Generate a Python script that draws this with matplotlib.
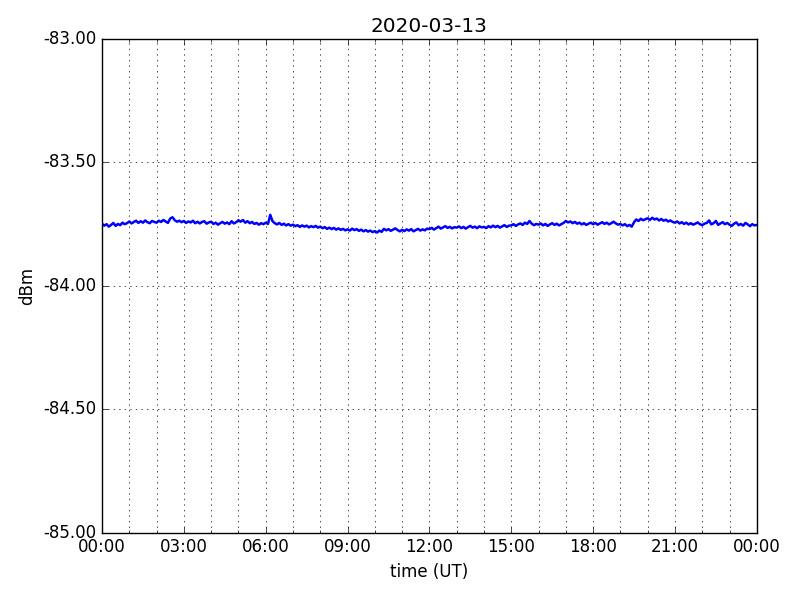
import datetime as dt
import matplotlib
matplotlib.use("Agg")
import matplotlib.pyplot as plt
import matplotlib.dates as mdates
from matplotlib.ticker import FormatStrFormatter, MultipleLocator

plt.style.use("classic")

day = dt.datetime(2020, 3, 13)
step_min = 5

# received level, one value every 5 minutes (dBm), one row per hour
level = [
    -83.748, -83.756, -83.750, -83.760, -83.753, -83.745, -83.757, -83.749, -83.754, -83.744, -83.750, -83.746,
    -83.739, -83.747, -83.741, -83.736, -83.745, -83.738, -83.744, -83.735, -83.742, -83.746, -83.737, -83.741,
    -83.744, -83.736, -83.741, -83.733, -83.739, -83.745, -83.727, -83.722, -83.734, -83.740, -83.736, -83.742,
    -83.737, -83.745, -83.739, -83.743, -83.736, -83.746, -83.740, -83.747, -83.741, -83.738, -83.748, -83.743,
    -83.740, -83.749, -83.744, -83.752, -83.746, -83.741, -83.748, -83.743, -83.750, -83.738, -83.747, -83.742,
    -83.734, -83.740, -83.733, -83.744, -83.738, -83.746, -83.741, -83.749, -83.745, -83.752, -83.746, -83.750,
    -83.744, -83.749, -83.712, -83.738, -83.746, -83.751, -83.745, -83.753, -83.748, -83.755, -83.750, -83.756,
    -83.752, -83.758, -83.754, -83.761, -83.755, -83.760, -83.756, -83.763, -83.758, -83.762, -83.757, -83.764,
    -83.760, -83.766, -83.762, -83.769, -83.764, -83.770, -83.765, -83.772, -83.767, -83.773, -83.769, -83.775,
    -83.771, -83.776, -83.768, -83.774, -83.770, -83.777, -83.772, -83.779, -83.774, -83.780, -83.776, -83.782,
    -83.778, -83.784, -83.776, -83.781, -83.769, -83.775, -83.770, -83.777, -83.772, -83.767, -83.774, -83.779,
    -83.773, -83.778, -83.771, -83.776, -83.770, -83.779, -83.774, -83.769, -83.776, -83.771, -83.775, -83.768,
    -83.770, -83.765, -83.772, -83.766, -83.760, -83.768, -83.763, -83.758, -83.765, -83.761, -83.767, -83.762,
    -83.764, -83.759, -83.766, -83.761, -83.768, -83.762, -83.757, -83.764, -83.760, -83.766, -83.759, -83.763,
    -83.761, -83.766, -83.758, -83.763, -83.756, -83.762, -83.757, -83.764, -83.759, -83.754, -83.761, -83.756,
    -83.755, -83.750, -83.757, -83.751, -83.747, -83.753, -83.744, -83.749, -83.737, -83.748, -83.754, -83.749,
    -83.752, -83.747, -83.755, -83.749, -83.757, -83.751, -83.746, -83.753, -83.748, -83.755, -83.750, -83.745,
    -83.737, -83.743, -83.739, -83.746, -83.741, -83.748, -83.744, -83.751, -83.746, -83.753, -83.748, -83.744,
    -83.750, -83.745, -83.752, -83.747, -83.742, -83.749, -83.744, -83.751, -83.746, -83.740, -83.747, -83.752,
    -83.749, -83.755, -83.750, -83.758, -83.753, -83.760, -83.742, -83.731, -83.737, -83.728, -83.734, -83.730,
    -83.726, -83.733, -83.724, -83.731, -83.727, -83.735, -83.729, -83.736, -83.732, -83.739, -83.735, -83.741,
    -83.744, -83.739, -83.747, -83.742, -83.749, -83.744, -83.751, -83.746, -83.752, -83.748, -83.743, -83.750,
    -83.754, -83.748, -83.745, -83.735, -83.751, -83.746, -83.737, -83.753, -83.747, -83.742, -83.750, -83.745,
    -83.752, -83.757, -83.748, -83.743, -83.754, -83.749, -83.756, -83.745, -83.751, -83.758, -83.750, -83.755,
    -83.753,
]
times = [day + dt.timedelta(minutes=step_min * i) for i in range(len(level))]

fig, ax = plt.subplots(figsize=(8, 6), dpi=100)
fig.patch.set_facecolor("white")
fig.subplots_adjust(left=0.1275, right=0.946, top=0.935, bottom=0.112)
ax.plot(times, level, color="blue", linewidth=1.8)

ax.set_xlim(day, day + dt.timedelta(days=1))
ax.set_ylim(-85, -83)
ax.xaxis.set_major_locator(mdates.HourLocator(byhour=range(0, 24, 3)))
ax.xaxis.set_minor_locator(mdates.HourLocator())
ax.xaxis.set_major_formatter(mdates.DateFormatter("%H:%M"))
ax.yaxis.set_major_locator(MultipleLocator(0.5))
ax.yaxis.set_major_formatter(FormatStrFormatter("%.2f"))
ax.grid(True, which="both", axis="x", color="black", linestyle=":")
ax.grid(True, which="major", axis="y", color="black", linestyle=":")

ax.set_title("2020-03-13")
ax.set_xlabel("time (UT)")
ax.set_ylabel("dBm")

fig.savefig("out.png", dpi=100, facecolor="white")
